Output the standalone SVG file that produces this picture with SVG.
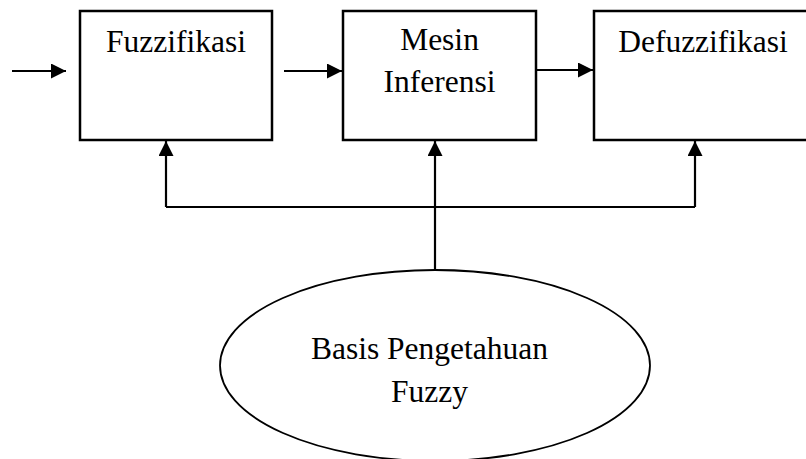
<svg xmlns="http://www.w3.org/2000/svg" width="806" height="459" viewBox="0 0 806 459">
  <style>
    .box { fill: #fff; stroke: #000; stroke-width: 2.5; }
    .oval { fill: #fff; stroke: #000; stroke-width: 1.8; }
    .wire { fill: none; stroke: #000; stroke-width: 2.2; }
    .lbl { font-family: "Liberation Serif", "Times New Roman", serif; font-size: 31.5px; fill: #000; text-anchor: middle; }
  </style>
  <defs>
    <marker id="arrow" markerUnits="userSpaceOnUse" markerWidth="16" markerHeight="16" refX="15" refY="7.5" orient="auto">
      <path d="M0,0 L15,7.5 L0,15 Z" fill="#000"/>
    </marker>
  </defs>
  <rect width="806" height="459" fill="#fff"/>

  <g id="connectors">
    <line class="wire" x1="12" y1="71" x2="66" y2="71" marker-end="url(#arrow)"/>
    <line class="wire" x1="284" y1="71" x2="342" y2="71" marker-end="url(#arrow)"/>
    <line class="wire" x1="536" y1="70" x2="593" y2="70" marker-end="url(#arrow)"/>
    <polyline class="wire" points="166,207 695,207"/>
    <line class="wire" x1="166" y1="207" x2="166" y2="141" marker-end="url(#arrow)"/>
    <line class="wire" x1="695" y1="207" x2="695" y2="141" marker-end="url(#arrow)"/>
    <line class="wire" x1="435" y1="270" x2="435" y2="141" marker-end="url(#arrow)"/>
  </g>

  <g id="fuzzifikasi">
    <rect class="box" x="80" y="11" width="192" height="129"/>
    <text class="lbl" x="176" y="52">Fuzzifikasi</text>
  </g>

  <g id="mesin-inferensi">
    <rect class="box" x="343" y="11" width="193" height="129"/>
    <text class="lbl" x="439.5" y="50">Mesin</text>
    <text class="lbl" x="439.5" y="92">Inferensi</text>
  </g>

  <g id="defuzzifikasi">
    <rect class="box" x="594" y="11" width="220" height="129"/>
    <text class="lbl" x="703" y="52">Defuzzifikasi</text>
  </g>

  <g id="basis-pengetahuan">
    <ellipse class="oval" cx="435" cy="365.5" rx="215" ry="95.5"/>
    <text class="lbl" x="429.5" y="359">Basis Pengetahuan</text>
    <text class="lbl" x="429.5" y="402">Fuzzy</text>
  </g>
</svg>
